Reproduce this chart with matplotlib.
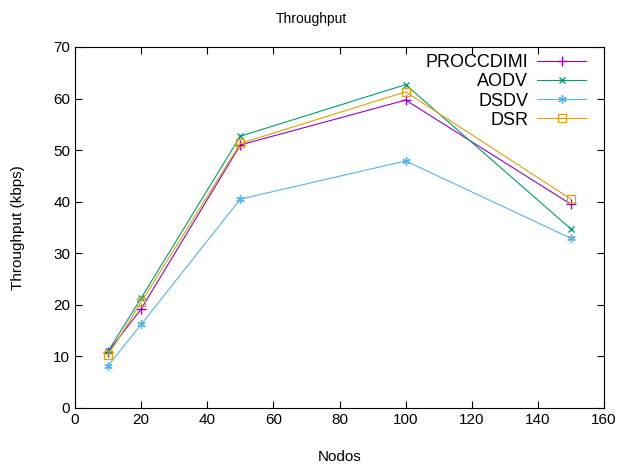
import matplotlib
matplotlib.use('Agg')
import matplotlib.pyplot as plt

plt.rcParams['font.family'] = ['Liberation Sans', 'DejaVu Sans']

nodos = [10, 20, 50, 100, 150]
proccdimi = [10.9, 19.2, 51.0, 59.7, 39.5]
aodv = [11.0, 21.3, 52.7, 62.7, 34.7]
dsdv = [8.2, 16.2, 40.5, 47.9, 32.9]
dsr = [10.2, 20.5, 51.3, 61.3, 40.5]

fig = plt.figure(figsize=(6.23, 4.65), dpi=100)
ax = fig.add_axes([0.1204, 0.1226, 0.8491, 0.7764])

ax.plot(nodos, proccdimi, color='#9400d3', marker='+', markersize=7, linewidth=0.8, label='PROCCDIMI')
ax.plot(nodos, aodv, color='#009e73', marker='x', markersize=5, linewidth=0.8, label='AODV')
ax.plot(nodos, dsdv, color='#56b4e9', marker=(6, 2, 0), markersize=6, linewidth=0.8, label='DSDV')
ax.plot(nodos, dsr, color='#e69f00', marker='s', markersize=6, markerfacecolor='none',
        markeredgewidth=0.9, linewidth=0.8, label='DSR')

ax.set_xlim(0, 160)
ax.set_ylim(0, 70)
ax.set_xticks(range(0, 161, 20))
ax.set_yticks(range(0, 71, 10))
ax.tick_params(direction='in', top=True, right=True, labelsize=11, length=5)
ax.set_xlabel('Nodos', fontsize=11, labelpad=17)
ax.set_ylabel('Throughput (kbps)', fontsize=11, labelpad=20)
fig.suptitle('Throughput', y=0.975, fontsize=10)

ax.legend(loc='upper right', bbox_to_anchor=(0.98, 1.0), frameon=False, markerfirst=False,
          fontsize=13, handlelength=2.7, handletextpad=0.5, labelspacing=0.12, borderaxespad=0.0)
for t in ax.get_legend().get_texts():
    t.set_ha('right')

fig.savefig('out.png', dpi=100)
